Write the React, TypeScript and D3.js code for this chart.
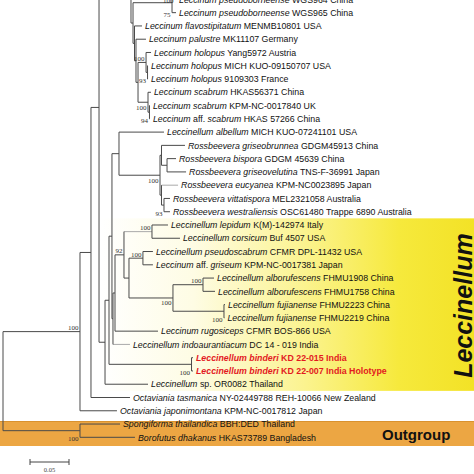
import React from "react";
import * as d3 from "d3";

// ---- DATA -------------------------------------------------------------
// tree edges in preorder: [id, parentId, branch length (subst./site), support]
const edges: [string, string, number, string][] = [
  ["root", "", 0, ""],
  ["I", "root", 0.0987, "100"],
  ["A", "I", 0.0141, ""],
  ["B", "A", 0.0103, ""],
  ["Z", "B", 0.0205, ""],
  ["hZ", "Z", 0.0577, ""],
  ["K0", "Z", 0.0205, ""],
  ["hK0", "K0", 0.05, ""],
  ["K1", "K0", 0.0026, ""],
  ["P1", "K1", 0.05, "75"],
  ["P0", "P1", 0.0038, "100"],
  ["hP0", "P0", 0.0013, ""],
  ["t00", "P0", 0.0013, ""],
  ["t01", "P1", 0.0051, ""],
  ["K2", "K1", 0.0019, ""],
  ["t02", "K2", 0.0096, ""],
  ["K3", "K2", 0.0019, ""],
  ["t03", "K3", 0.0128, ""],
  ["HS", "K3", 0.0026, ""],
  ["H", "HS", 0.0103, "100"],
  ["t04", "H", 0.0064, ""],
  ["H2", "H", 0.0019, "93"],
  ["t05", "H2", 0.0006, ""],
  ["t06", "H2", 0.0006, ""],
  ["S", "HS", 0.0128, "100"],
  ["t07", "S", 0.0038, ""],
  ["S2", "S", 0.0019, "94"],
  ["t08", "S2", 0.0006, ""],
  ["t09", "S2", 0.0006, ""],
  ["L1", "B", 0.0077, ""],
  ["L2", "L1", 0.0051, ""],
  ["D", "L2", 0.0038, ""],
  ["RA", "D", 0.009, ""],
  ["t10", "RA", 0.0577, ""],
  ["ROSS", "RA", 0.0526, "100"],
  ["R1", "ROSS", 0.0019, ""],
  ["t11", "R1", 0.0301, ""],
  ["BG", "R1", 0.0071, ""],
  ["t12", "BG", 0.0115, ""],
  ["t13", "BG", 0.0244, ""],
  ["R2", "ROSS", 0.0019, ""],
  ["t14", "R2", 0.0212, ""],
  ["VW", "R2", 0.0032, "93"],
  ["t15", "VW", 0.0077, ""],
  ["t16", "VW", 0.0077, ""],
  ["E", "D", 0.0013, ""],
  ["G", "E", 0.0026, ""],
  ["N92", "G", 0.0115, "92"],
  ["LC", "N92", 0.0359, "100"],
  ["t17", "LC", 0.0205, ""],
  ["t18", "LC", 0.0359, ""],
  ["N2", "N92", 0.0064, ""],
  ["PG", "N2", 0.0179, "100"],
  ["t19", "PG", 0.0128, ""],
  ["t20", "PG", 0.0128, ""],
  ["BIG", "N2", 0.0564, "100"],
  ["ALB", "BIG", 0.0385, "100"],
  ["t21", "ALB", 0.0141, ""],
  ["t22", "ALB", 0.0154, ""],
  ["FUJ", "BIG", 0.0654, "100"],
  ["t23", "FUJ", 0.0013, ""],
  ["t24", "FUJ", 0.0006, ""],
  ["t25", "G", 0.0551, ""],
  ["t26", "E", 0.0218, ""],
  ["BN", "L2", 0.1058, "100"],
  ["t27", "BN", 0.0019, ""],
  ["t28", "BN", 0.0019, ""],
  ["t29", "L1", 0.0551, ""],
  ["t30", "A", 0.05, ""],
  ["t31", "I", 0.0474, ""],
  ["O", "root", 0.0987, "100"],
  ["t32", "O", 0.0513, ""],
  ["t33", "O", 0.0705, ""],
];

// cropped parts of the original figure (collapsed clades above the visible area): rows they take
const croppedRows: [string, number][] = [
  ["hZ", 3],
  ["hK0", 13],
  ["hP0", 1],
];

// taxa: [id, species name, voucher / locality, highlighted]
const taxa: [string, string, string, boolean][] = [
  ["t00", "Leccinum pseudoborneense", "WGS964 China", false],
  ["t01", "Leccinum pseudoborneense", "WGS965 China", false],
  ["t02", "Leccinum flavostipitatum", "MENMB10801 USA", false],
  ["t03", "Leccinum palustre", "MK11107 Germany", false],
  ["t04", "Leccinum holopus", "Yang5972 Austria", false],
  ["t05", "Leccinum holopus", "MICH KUO-09150707 USA", false],
  ["t06", "Leccinum holopus", "9109303 France", false],
  ["t07", "Leccinum scabrum", "HKAS56371 China", false],
  ["t08", "Leccinum scabrum", "KPM-NC-0017840 UK", false],
  ["t09", "Leccinum aff. scabrum", "HKAS 57266 China", false],
  ["t10", "Leccinellum albellum", "MICH KUO-07241101 USA", false],
  ["t11", "Rossbeevera griseobrunnea", "GDGM45913 China", false],
  ["t12", "Rossbeevera bispora", "GDGM 45639 China", false],
  ["t13", "Rossbeevera griseovelutina", "TNS-F-36991 Japan", false],
  ["t14", "Rossbeevera eucyanea", "KPM-NC0023895 Japan", false],
  ["t15", "Rossbeevera vittatispora", "MEL2321058 Australia", false],
  ["t16", "Rossbeevera westraliensis", "OSC61480 Trappe 6890 Australia", false],
  ["t17", "Leccinellum lepidum", "K(M)-142974 Italy", false],
  ["t18", "Leccinellum corsicum", "Buf 4507 USA", false],
  ["t19", "Leccinellum pseudoscabrum", "CFMR DPL-11432 USA", false],
  ["t20", "Leccinum aff. griseum", "KPM-NC-0017381 Japan", false],
  ["t21", "Leccinellum alborufescens", "FHMU1908 China", false],
  ["t22", "Leccinellum alborufescens", "FHMU1758 China", false],
  ["t23", "Leccinellum fujianense", "FHMU2223 China", false],
  ["t24", "Leccinellum fujianense", "FHMU2219 China", false],
  ["t25", "Leccinum rugosiceps", "CFMR BOS-866 USA", false],
  ["t26", "Leccinellum indoaurantiacum", "DC 14 - 019 India", false],
  ["t27", "Leccinellum binderi", "KD 22-015 India", true],
  ["t28", "Leccinellum binderi", "KD 22-007 India Holotype", true],
  ["t29", "Leccinellum sp.", "OR0082 Thailand", false],
  ["t30", "Octaviania tasmanica", "NY-02449788 REH-10066 New Zealand", false],
  ["t31", "Octaviania japonimontana", "KPM-NC-0017812 Japan", false],
  ["t32", "Spongiforma thailandica", "BBH:DED Thailand", false],
  ["t33", "Borofutus dhakanus", "HKAS73789 Bangladesh", false],
];

// where each support value sits relative to its node
const supportPlace: [string, string][] = [
  ["I", "above"], ["O", "bottom"], ["P1", "bottom"], ["P0", "bottom"],
  ["H", "above"], ["H2", "bottom"], ["S", "below"], ["S2", "bottom"],
  ["ROSS", "below"], ["VW", "bottom"], ["N92", "above"], ["LC", "above"],
  ["PG", "above"], ["BIG", "below"], ["ALB", "above"], ["FUJ", "bottom"],
  ["BN", "bottom"],
];

const lightBranches = ["t26", "t14", "LC"];
const cladeLabel = "Leccinellum";
const outgroupLabel = "Outgroup";
const scaleBarValue = 0.05;
const scaleBarLabel = "0.05";

// ---- COMPONENT --------------------------------------------------------
const W = 474;
const H = 474;
const FONT = "'Liberation Sans', Arial, sans-serif";

type N = d3.HierarchyNode<[string, string, number, string]> & { dist?: number; row?: number };

export default function App() {
  const x = d3.scaleLinear().domain([0, 0.3]).range([3, 3 + 0.3 * 780]);
  const y = d3.scaleLinear().domain([0, 1]).range([-0.6, 12.67]);

  const root = d3
    .stratify<[string, string, number, string]>()
    .id((d) => d[0])
    .parentId((d) => (d[1] === "" ? null : d[1]))(edges) as N;

  root.eachBefore((n: N) => {
    n.dist = n.parent ? (n.parent as N).dist! + n.data[2] : 0;
  });
  const cropMap = new Map(croppedRows);
  let cursor = -d3.sum(croppedRows, (d) => d[1]);
  root.leaves().forEach((l: N) => {
    const k = cropMap.get(l.data[0]) ?? 1;
    l.row = cursor + (k - 1) / 2;
    cursor += k;
  });
  root.eachAfter((n: N) => {
    if (n.children) {
      const c = n.children as N[];
      n.row = (c[0].row! + c[c.length - 1].row!) / 2;
    }
  });

  const nodes = root.descendants() as N[];
  const taxaMap = new Map(taxa.map((t) => [t[0], t]));
  const placeMap = new Map(supportPlace);
  const light = new Set(lightBranches);

  const renderName = (name: string, bold: boolean) =>
    name.split(" ").map((w, i) => (
      <tspan key={i} fontStyle={w === "aff." || w === "sp." ? "normal" : "italic"} fontWeight={bold ? "bold" : "normal"}>
        {(i > 0 ? " " : "") + w}
      </tspan>
    ));

  const yellowTop = (y(16) + y(17)) / 2;
  const yellowBot = (y(29) + y(30)) / 2;
  const sbLen = x(scaleBarValue) - x(0);

  return (
    <svg width={W} height={H} style={{ position: "absolute", left: 0, top: 0, background: "#fff" }} fontFamily={FONT}>
      <defs>
        <linearGradient id="yel" x1="0" x2="1" y1="0" y2="0">
          <stop offset="0" stopColor="#ffffff" />
          <stop offset="0.25" stopColor="#fefce4" />
          <stop offset="0.55" stopColor="#fbf38e" />
          <stop offset="0.8" stopColor="#f6e93c" />
          <stop offset="1" stopColor="#f3e226" />
        </linearGradient>
      </defs>
      <rect x={100} y={yellowTop} width={W - 100} height={yellowBot - yellowTop} fill="url(#yel)" />
      <rect x={0} y={421} width={W} height={25} fill="#eca643" />
      <line x1={0} x2={W} y1={421.5} y2={421.5} stroke="#d9922f" strokeWidth={1} />

      {/* branches */}
      <g fill="none" strokeWidth={1}>
        {nodes
          .filter((n) => n.parent)
          .map((n) => (
            <line
              key={"h" + n.data[0]}
              x1={x((n.parent as N).dist!)}
              x2={x(n.dist!)}
              y1={y(n.row!)}
              y2={y(n.row!)}
              stroke={light.has(n.data[0]) ? "#aaaaaa" : "#4a4a4a"}
            />
          ))}
        {nodes
          .filter((n) => n.children)
          .map((n) => {
            const c = n.children as N[];
            return (
              <line
                key={"v" + n.data[0]}
                x1={x(n.dist!)}
                x2={x(n.dist!)}
                y1={y(c[0].row!)}
                y2={y(c[c.length - 1].row!)}
                stroke="#4a4a4a"
              />
            );
          })}
      </g>

      {/* support values */}
      <g fontFamily="'Liberation Serif', 'Times New Roman', serif" fontSize={7} fill="#333" textAnchor="end">
        {nodes
          .filter((n) => n.data[3] !== "")
          .map((n) => {
            const place = placeMap.get(n.data[0]) ?? "above";
            const c = n.children as N[];
            let ty = y(n.row!) - 1.5;
            if (place === "below") ty = y(n.row!) + 7.5;
            if (place === "bottom") ty = y(c[c.length - 1].row!) + 4;
            return (
              <text key={"s" + n.data[0]} x={x(n.dist!) - 1.5} y={ty}>
                {n.data[3]}
              </text>
            );
          })}
      </g>

      {/* tip labels */}
      <g fontSize={8.8}>
        {root.leaves().map((l: N) => {
          const t = taxaMap.get(l.data[0]);
          if (!t) return null;
          const [, name, voucher, hl] = t;
          return (
            <text key={"t" + l.data[0]} x={x(l.dist!) + 3} y={y(l.row!) + 3.2} fill={hl ? "#e3191f" : "#111"}>
              {renderName(name, hl)}
              <tspan fontWeight={hl ? "bold" : "normal"}>{" " + voucher}</tspan>
            </text>
          );
        })}
      </g>

      {/* clade labels */}
      <text
        transform={`translate(471.5,${(yellowTop + yellowBot) / 2 + 1}) rotate(-90)`}
        textAnchor="middle"
        fontSize={25}
        fontWeight="bold"
        fontStyle="italic"
        fill="#111"
      >
        {cladeLabel}
      </text>
      <text x={382} y={439.5} fontSize={15} fontWeight="bold" fill="#111">
        {outgroupLabel}
      </text>

      {/* scale bar */}
      <g stroke="#444" strokeWidth={1}>
        <line x1={30} x2={30 + sbLen} y1={462} y2={462} />
        <line x1={30} x2={30} y1={459} y2={465} />
        <line x1={30 + sbLen} x2={30 + sbLen} y1={459} y2={465} />
      </g>
      <text x={30 + sbLen / 2} y={472} fontSize={6.5} textAnchor="middle" fill="#444" fontFamily="'Liberation Serif', serif">
        {scaleBarLabel}
      </text>
    </svg>
  );
}
